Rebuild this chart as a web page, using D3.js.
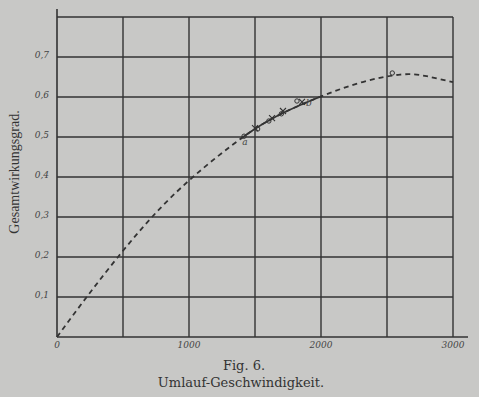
<!DOCTYPE html>
<html>
<head>
<meta charset="utf-8">
<script src="https://cdn.jsdelivr.net/npm/d3@7"></script>
<style>
  body { margin: 0; background: #c8c8c6; }
  svg { display: block; }
  .tick-label { font-family: "DejaVu Serif", serif; font-style: italic; font-size: 9px; fill: #444; }
  .title { font-family: "Liberation Serif", "DejaVu Serif", serif; fill: #333; }
  .caption { font-family: "DejaVu Serif", serif; fill: #333; font-size: 13px; }
</style>
</head>
<body>
<svg id="chart" width="479" height="397"></svg>
<script>
// Umlauf-Geschwindigkeit vs. Gesamtwirkungsgrad
const curveX = [0, 225, 462, 720, 1030, 1410, 1700, 1990, 2300, 2600, 2800, 3000];
const curveY = [0, 0.1, 0.2, 0.3, 0.4, 0.5, 0.558, 0.6, 0.636, 0.656, 0.652, 0.637];
const solidRange = [1390, 2010];

const circleX = [1417, 1520, 1605, 1700, 1818, 2540];
const circleY = [0.502, 0.52, 0.54, 0.558, 0.59, 0.66];
const crossX = [1500, 1629, 1712, 1856];
const crossY = [0.522, 0.547, 0.565, 0.588];

const xTicks = [0, 1000, 2000, 3000];
const xGrid = [500, 1000, 1500, 2000, 2500, 3000];
const yTicks = [0.1, 0.2, 0.3, 0.4, 0.5, 0.6, 0.7];
const yGrid = [0.1, 0.2, 0.3, 0.4, 0.5, 0.6, 0.7, 0.8];

const svg = d3.select('#chart');
const ink = '#333';

const x = d3.scaleLinear().domain([0, 3000]).range([57, 453]);
const y = d3.scaleLinear().domain([0, 0.8]).range([337, 17]);

/* grid */
svg.append('g').selectAll('line').data(yGrid).enter().append('line')
    .attr('x1', x(0)).attr('x2', x(3000))
    .attr('y1', d => y(d)).attr('y2', d => y(d))
    .attr('stroke', ink).attr('stroke-width', 1.4);

svg.append('g').selectAll('line').data(xGrid).enter().append('line')
    .attr('x1', d => x(d)).attr('x2', d => x(d))
    .attr('y1', y(0)).attr('y2', y(0.8))
    .attr('stroke', ink).attr('stroke-width', 1.4);

/* axes */
svg.append('line')
    .attr('x1', x(0)).attr('x2', x(0))
    .attr('y1', y(0)).attr('y2', y(0.8) - 8)
    .attr('stroke', ink).attr('stroke-width', 1.6);
svg.append('line')
    .attr('x1', x(0)).attr('x2', x(3000) + 15)
    .attr('y1', y(0)).attr('y2', y(0))
    .attr('stroke', ink).attr('stroke-width', 1.6);

/* tick labels */
svg.append('g').selectAll('text').data(yTicks).enter().append('text')
    .attr('class', 'tick-label')
    .attr('x', x(0) - 8).attr('y', d => y(d) + 1)
    .attr('text-anchor', 'end')
    .text(d => d3.format('.1f')(d).replace('.', ','));

svg.append('g').selectAll('text').data(xTicks).enter().append('text')
    .attr('class', 'tick-label')
    .attr('x', d => x(d)).attr('y', y(0) + 11)
    .attr('text-anchor', 'middle')
    .text(d => d);

/* curve */
const pts = curveX.map((v, i) => [v, curveY[i]]);
const line = d3.line()
    .x(d => x(d[0])).y(d => y(d[1]))
    .curve(d3.curveNatural);

svg.append('path')
    .attr('d', line(pts))
    .attr('fill', 'none').attr('stroke', ink)
    .attr('stroke-width', 1.8).attr('stroke-dasharray', '5,4');

// solid middle segment, clipped from the same curve
svg.append('clipPath').attr('id', 'solid')
  .append('rect')
    .attr('x', x(solidRange[0])).attr('y', 0)
    .attr('width', x(solidRange[1]) - x(solidRange[0])).attr('height', 397);

svg.append('path')
    .attr('d', line(pts))
    .attr('clip-path', 'url(#solid)')
    .attr('fill', 'none').attr('stroke', ink).attr('stroke-width', 1.6);

/* measured points */
svg.append('g').selectAll('circle').data(circleX).enter().append('circle')
    .attr('cx', d => x(d)).attr('cy', (d, i) => y(circleY[i]))
    .attr('r', 2.2)
    .attr('fill', 'none').attr('stroke', ink).attr('stroke-width', 1);

svg.append('g').selectAll('path').data(crossX).enter().append('path')
    .attr('d', (d, i) => {
        const cx = x(d), cy = y(crossY[i]), s = 3;
        return `M${cx - s},${cy - s}L${cx + s},${cy + s}M${cx - s},${cy + s}L${cx + s},${cy - s}`;
    })
    .attr('stroke', ink).attr('stroke-width', 1.1);

svg.append('text').attr('class', 'tick-label')
    .attr('x', x(1417) + 1).attr('y', y(0.502) + 9)
    .attr('text-anchor', 'middle').text('a');
svg.append('text').attr('class', 'tick-label')
    .attr('x', x(1856) + 7).attr('y', y(0.588) + 4)
    .attr('text-anchor', 'middle').text('b');

/* titles */
svg.append('text').attr('class', 'title')
    .attr('transform', `translate(19,172) rotate(-90)`)
    .attr('text-anchor', 'middle')
    .style('font-size', '14px')
    .text('Gesamtwirkungsgrad.');

svg.append('text').attr('class', 'caption')
    .attr('x', 244).attr('y', 370)
    .attr('text-anchor', 'middle')
    .text('Fig. 6.');

svg.append('text').attr('class', 'caption')
    .attr('x', 241).attr('y', 387)
    .attr('text-anchor', 'middle')
    .text('Umlauf-Geschwindigkeit.');
</script>
</body>
</html>
